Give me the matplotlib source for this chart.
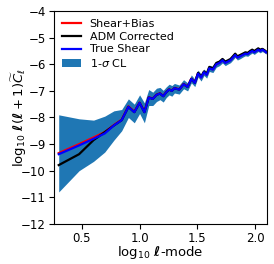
import numpy as np
import matplotlib
matplotlib.use("Agg")
import matplotlib.pyplot as plt

# multipoles and values
ells = [2, 3, 4, 5, 6, 7, 8, 9, 10, 11, 12, 13, 14, 15, 16, 17, 18, 19, 20,
        22, 24, 26, 28, 30, 32, 34, 36, 38, 40, 43, 46, 49, 52, 55, 58, 61,
        64, 67, 70, 74, 78, 82, 86, 90, 94, 98, 102, 106, 110, 115, 120, 124]

true_shear = [-9.38, -9.05, -8.80, -8.60, -8.30, -8.10, -7.60, -7.80, -7.45,
              -7.80, -7.25, -7.30, -7.15, -7.10, -7.20, -7.05, -6.95, -7.00,
              -6.90, -6.95, -6.75, -6.85, -6.55, -6.70, -6.35, -6.50, -6.30,
              -6.40, -6.15, -6.20, -6.00, -5.95, -5.85, -5.95, -5.90, -5.85,
              -5.75, -5.65, -5.75, -5.70, -5.65, -5.60, -5.62, -5.55, -5.50,
              -5.55, -5.50, -5.45, -5.50, -5.45, -5.50, -5.55]

shear_bias = [-9.34, -9.00, -8.75, -8.55, -8.28, -8.08, -7.58, -7.78, -7.44,
              -7.78, -7.24, -7.29, -7.14, -7.09, -7.19, -7.04, -6.94, -6.99,
              -6.89, -6.94, -6.74, -6.84, -6.54, -6.69, -6.34, -6.49, -6.29,
              -6.39, -6.14, -6.19, -5.99, -5.94, -5.84, -5.94, -5.89, -5.84,
              -5.74, -5.64, -5.74, -5.69, -5.64, -5.59, -5.61, -5.54, -5.49,
              -5.54, -5.49, -5.44, -5.49, -5.44, -5.49, -5.54]

adm_corrected = [-9.79, -9.38, -8.85, -8.55, -8.30, -8.10, -7.60, -7.80,
                 -7.45, -7.80, -7.25, -7.30, -7.15, -7.10, -7.20, -7.05,
                 -6.95, -7.00, -6.90, -6.95, -6.75, -6.85, -6.55, -6.70,
                 -6.32, -6.47, -6.27, -6.36, -6.10, -6.15, -5.95, -5.90,
                 -5.80, -5.90, -5.85, -5.80, -5.70, -5.60, -5.70, -5.65,
                 -5.60, -5.55, -5.57, -5.50, -5.45, -5.50, -5.45, -5.40,
                 -5.45, -5.42, -5.47, -5.52]

band_lo = [-10.80, -10.00, -9.65, -9.30, -8.85, -8.50, -8.00, -8.20, -7.85,
           -8.20, -7.55, -7.55, -7.40, -7.33, -7.42, -7.25, -7.15, -7.20,
           -7.08, -7.12, -6.92, -7.00, -6.70, -6.84, -6.48, -6.63, -6.42,
           -6.52, -6.27, -6.31, -6.11, -6.05, -5.95, -6.05, -5.99, -5.94,
           -5.84, -5.74, -5.84, -5.79, -5.73, -5.68, -5.70, -5.63, -5.58,
           -5.63, -5.57, -5.52, -5.57, -5.52, -5.57, -5.62]

band_hi = [-7.90, -8.05, -8.10, -7.95, -7.75, -7.70, -7.30, -7.50, -7.15,
           -7.45, -6.95, -7.05, -6.90, -6.87, -6.98, -6.85, -6.75, -6.80,
           -6.72, -6.78, -6.58, -6.70, -6.40, -6.56, -6.22, -6.37, -6.18,
           -6.28, -6.03, -6.09, -5.89, -5.85, -5.75, -5.85, -5.81, -5.76,
           -5.66, -5.56, -5.66, -5.61, -5.57, -5.52, -5.54, -5.47, -5.42,
           -5.47, -5.43, -5.38, -5.43, -5.38, -5.43, -5.48]

x = np.log10(ells)

fig = plt.figure(figsize=(2.74, 2.64), dpi=100)
ax = fig.add_axes([0.197, 0.152, 0.777, 0.806])

band = ax.fill_between(x, band_lo, band_hi, color="#1f77b4", linewidth=0, label=r"1-$\sigma$ CL")
l1, = ax.plot(x, shear_bias, color="red", lw=1.6, label="Shear+Bias")
l2, = ax.plot(x, adm_corrected, color="black", lw=1.6, label="ADM Corrected")
l3, = ax.plot(x, true_shear, color="blue", lw=1.6, label="True Shear")

ax.set_xlim(0.26, 2.1)
ax.set_ylim(-12, -4)
ax.set_xticks([0.5, 1.0, 1.5, 2.0])
ax.set_yticks(np.arange(-12, -3, 1))
ax.tick_params(labelsize=8.5, pad=2.5)
ax.set_xlabel(r"$\log_{10}\,\boldsymbol{\ell}$-mode", fontsize=9.5)
ax.set_ylabel(r"$\log_{10}\,\boldsymbol{\ell}(\boldsymbol{\ell}+1)\widetilde{C}_\ell$",
              fontsize=9.5)
ax.xaxis.set_label_coords(0.5, -0.095)
ax.yaxis.set_label_coords(-0.115, 0.5)

lgd = ax.legend([l1, l2, l3, band], [l.get_label() for l in (l1, l2, l3, band)],
                loc="upper left", fontsize=8, handlelength=1.7,
                labelspacing=0.25, borderaxespad=0.3)
lgd.draw_frame(False)

fig.savefig("out.png", dpi=100)
